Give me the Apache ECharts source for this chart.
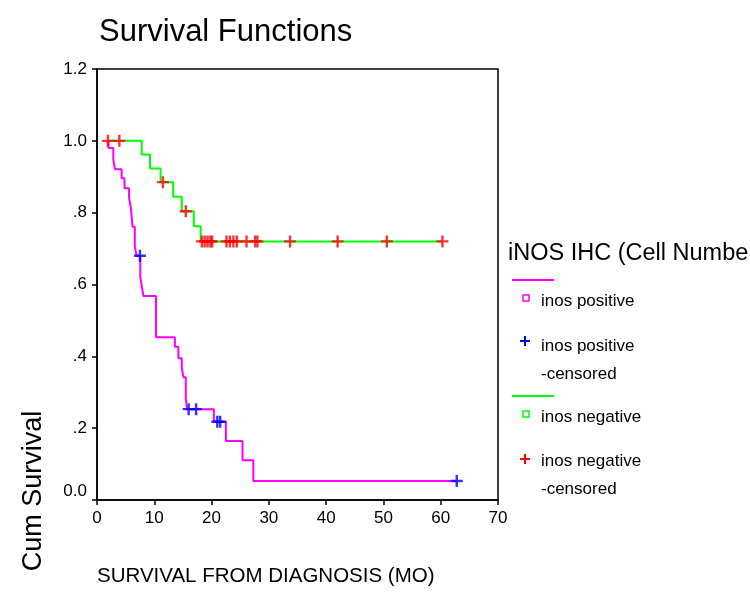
<!DOCTYPE html>
<html>
<head>
<meta charset="utf-8">
<script src="https://cdn.jsdelivr.net/npm/echarts@6/dist/echarts.min.js"></script>
<style>html,body{margin:0;padding:0;background:#fff}#c{width:750px;height:596px}</style>
</head>
<body>
<div id="c"></div>
<script>
// ---- data ----
const xTicks = [0, 10, 20, 30, 40, 50, 60, 70];
const yTickLabels = ['0.0', '.2', '.4', '.6', '.8', '1.0', '1.2'];

// iNOS positive: Kaplan-Meier step points (time, cumulative survival)
const posTimes = [2.0, 2.0, 2.85, 3.15, 4.3, 4.8, 5.6, 5.9, 6.2, 6.6, 6.9, 7.55, 7.8, 8.1, 10.3, 13.6, 14.2, 14.8, 15.1, 15.5, 15.7, 20.4, 22.5, 25.4, 27.3, 62.8];
const posSurv  = [1.0, 0.980, 0.947, 0.921, 0.896, 0.868, 0.840, 0.815, 0.761, 0.706, 0.680, 0.622, 0.597, 0.568, 0.453, 0.427, 0.395, 0.367, 0.342, 0.283, 0.253, 0.218, 0.164, 0.111, 0.053, 0.053];
// iNOS positive censored
const posCensTimes = [7.5, 16.0, 17.3, 21.0, 21.5, 62.8];
const posCensSurv  = [0.680, 0.253, 0.253, 0.218, 0.218, 0.053];

// iNOS negative
const negTimes = [1.9, 7.8, 9.25, 11.1, 13.3, 14.8, 16.9, 18.1, 60.3];
const negSurv  = [1.0, 0.962, 0.923, 0.885, 0.844, 0.804, 0.762, 0.720, 0.720];
// iNOS negative censored
const negCensTimes = [1.9, 3.9, 11.5, 15.5, 18.3, 18.8, 19.3, 19.8, 20.1, 22.6, 23.2, 23.8, 24.4, 26.1, 27.6, 28.0, 33.7, 42.0, 50.6, 60.3];
const negCensSurv  = [1.0, 1.0, 0.885, 0.804, 0.720, 0.720, 0.720, 0.720, 0.720, 0.720, 0.720, 0.720, 0.720, 0.720, 0.720, 0.720, 0.720, 0.720, 0.720, 0.720];

const zip = (a, b) => a.map((v, i) => [v, b[i]]);
const FONT = 'Liberation Sans, Arial, Helvetica, sans-serif';
const PLUS = 'path://M4,0H6V4H10V6H6V10H4V6H0V4H4Z';

function plusIcon(cx, cy, color) {
  return [
    {type: 'rect', shape: {x: cx - 5, y: cy - 1, width: 10, height: 2}, style: {fill: color}},
    {type: 'rect', shape: {x: cx - 1, y: cy - 5, width: 2, height: 10}, style: {fill: color}}
  ];
}
function txt(x, y, s, size) {
  return {type: 'text', x: x, y: y, style: {text: s, font: size + 'px ' + FONT, fill: '#000', textVerticalAlign: 'middle'}};
}

const chart = echarts.init(document.getElementById('c'), null, {renderer: 'canvas'});
chart.setOption({
  backgroundColor: '#fff',
  animation: false,
  title: {
    text: 'Survival Functions', left: 94, top: 12,
    textStyle: {fontFamily: FONT, fontSize: 31, fontWeight: 'normal', color: '#000'}
  },
  grid: {left: 97, right: 252, top: 69, bottom: 96, show: true, borderColor: '#000', borderWidth: 1.5, backgroundColor: '#fff'},
  xAxis: {
    type: 'value', min: 0, max: 70, interval: 10,
    axisLine: {show: true, lineStyle: {color: '#000', width: 1.5}},
    axisTick: {show: true, length: 5, lineStyle: {color: '#000', width: 1.5}},
    splitLine: {show: false},
    axisLabel: {fontFamily: FONT, fontSize: 17, color: '#000', margin: 10,
      formatter: v => String(xTicks[Math.round(v / 10)])}
  },
  yAxis: {
    type: 'value', min: 0, max: 1.2, interval: 0.2,
    axisLine: {show: true, lineStyle: {color: '#000', width: 1.5}},
    axisTick: {show: true, length: 5, lineStyle: {color: '#000', width: 1.5}},
    splitLine: {show: false},
    axisLabel: {fontFamily: FONT, fontSize: 17, color: '#000', margin: 10,
      formatter: v => {
        const i = Math.round(v / 0.2);
        return i === 0 ? '{up|' + yTickLabels[i] + '}' : yTickLabels[i];
      },
      rich: {up: {fontFamily: FONT, fontSize: 17, color: '#000', padding: [0, 0, 18, 0]}}
    }
  },
  series: [
    {type: 'line', step: 'end', data: zip(posTimes, posSurv), showSymbol: false, symbol: 'none',
     lineStyle: {color: '#ff00ff', width: 2}, z: 2},
    {type: 'line', step: 'end', data: zip(negTimes, negSurv), showSymbol: false, symbol: 'none',
     lineStyle: {color: '#00ff00', width: 2}, z: 2},
    {type: 'scatter', data: zip(posCensTimes, posCensSurv), symbol: PLUS, symbolSize: 12,
     itemStyle: {color: '#0000ff'}, z: 3},
    {type: 'scatter', data: zip(negCensTimes, negCensSurv), symbol: PLUS, symbolSize: 12,
     itemStyle: {color: '#ff0000'}, z: 3}
  ],
  graphic: [
    txt(97, 576, 'SURVIVAL FROM DIAGNOSIS (MO)', 20.5),
    {type: 'text', x: 34, y: 491, rotation: Math.PI / 2,
     style: {text: 'Cum Survival', font: '27px ' + FONT, fill: '#000', textAlign: 'center', textVerticalAlign: 'middle'}},
    txt(508, 254, 'iNOS IHC (Cell Numbe', 23.5),
    {type: 'line', shape: {x1: 512, y1: 280, x2: 554, y2: 280}, style: {stroke: '#ff00ff', lineWidth: 2}},
    {type: 'rect', shape: {x: 523, y: 295, width: 6, height: 6}, style: {stroke: '#ff00ff', fill: 'none', lineWidth: 1.5}},
    txt(541, 301, 'inos positive', 17),
    ...plusIcon(525, 341, '#0000ff'),
    txt(541, 346, 'inos positive', 17),
    txt(541, 374, '-censored', 17),
    {type: 'line', shape: {x1: 512, y1: 396, x2: 554, y2: 396}, style: {stroke: '#00ff00', lineWidth: 2}},
    {type: 'rect', shape: {x: 523, y: 411, width: 6, height: 6}, style: {stroke: '#00ff00', fill: 'none', lineWidth: 1.5}},
    txt(541, 417, 'inos negative', 17),
    ...plusIcon(525, 459, '#ff0000'),
    txt(541, 461, 'inos negative', 17),
    txt(541, 489, '-censored', 17)
  ]
});
</script>
</body>
</html>
